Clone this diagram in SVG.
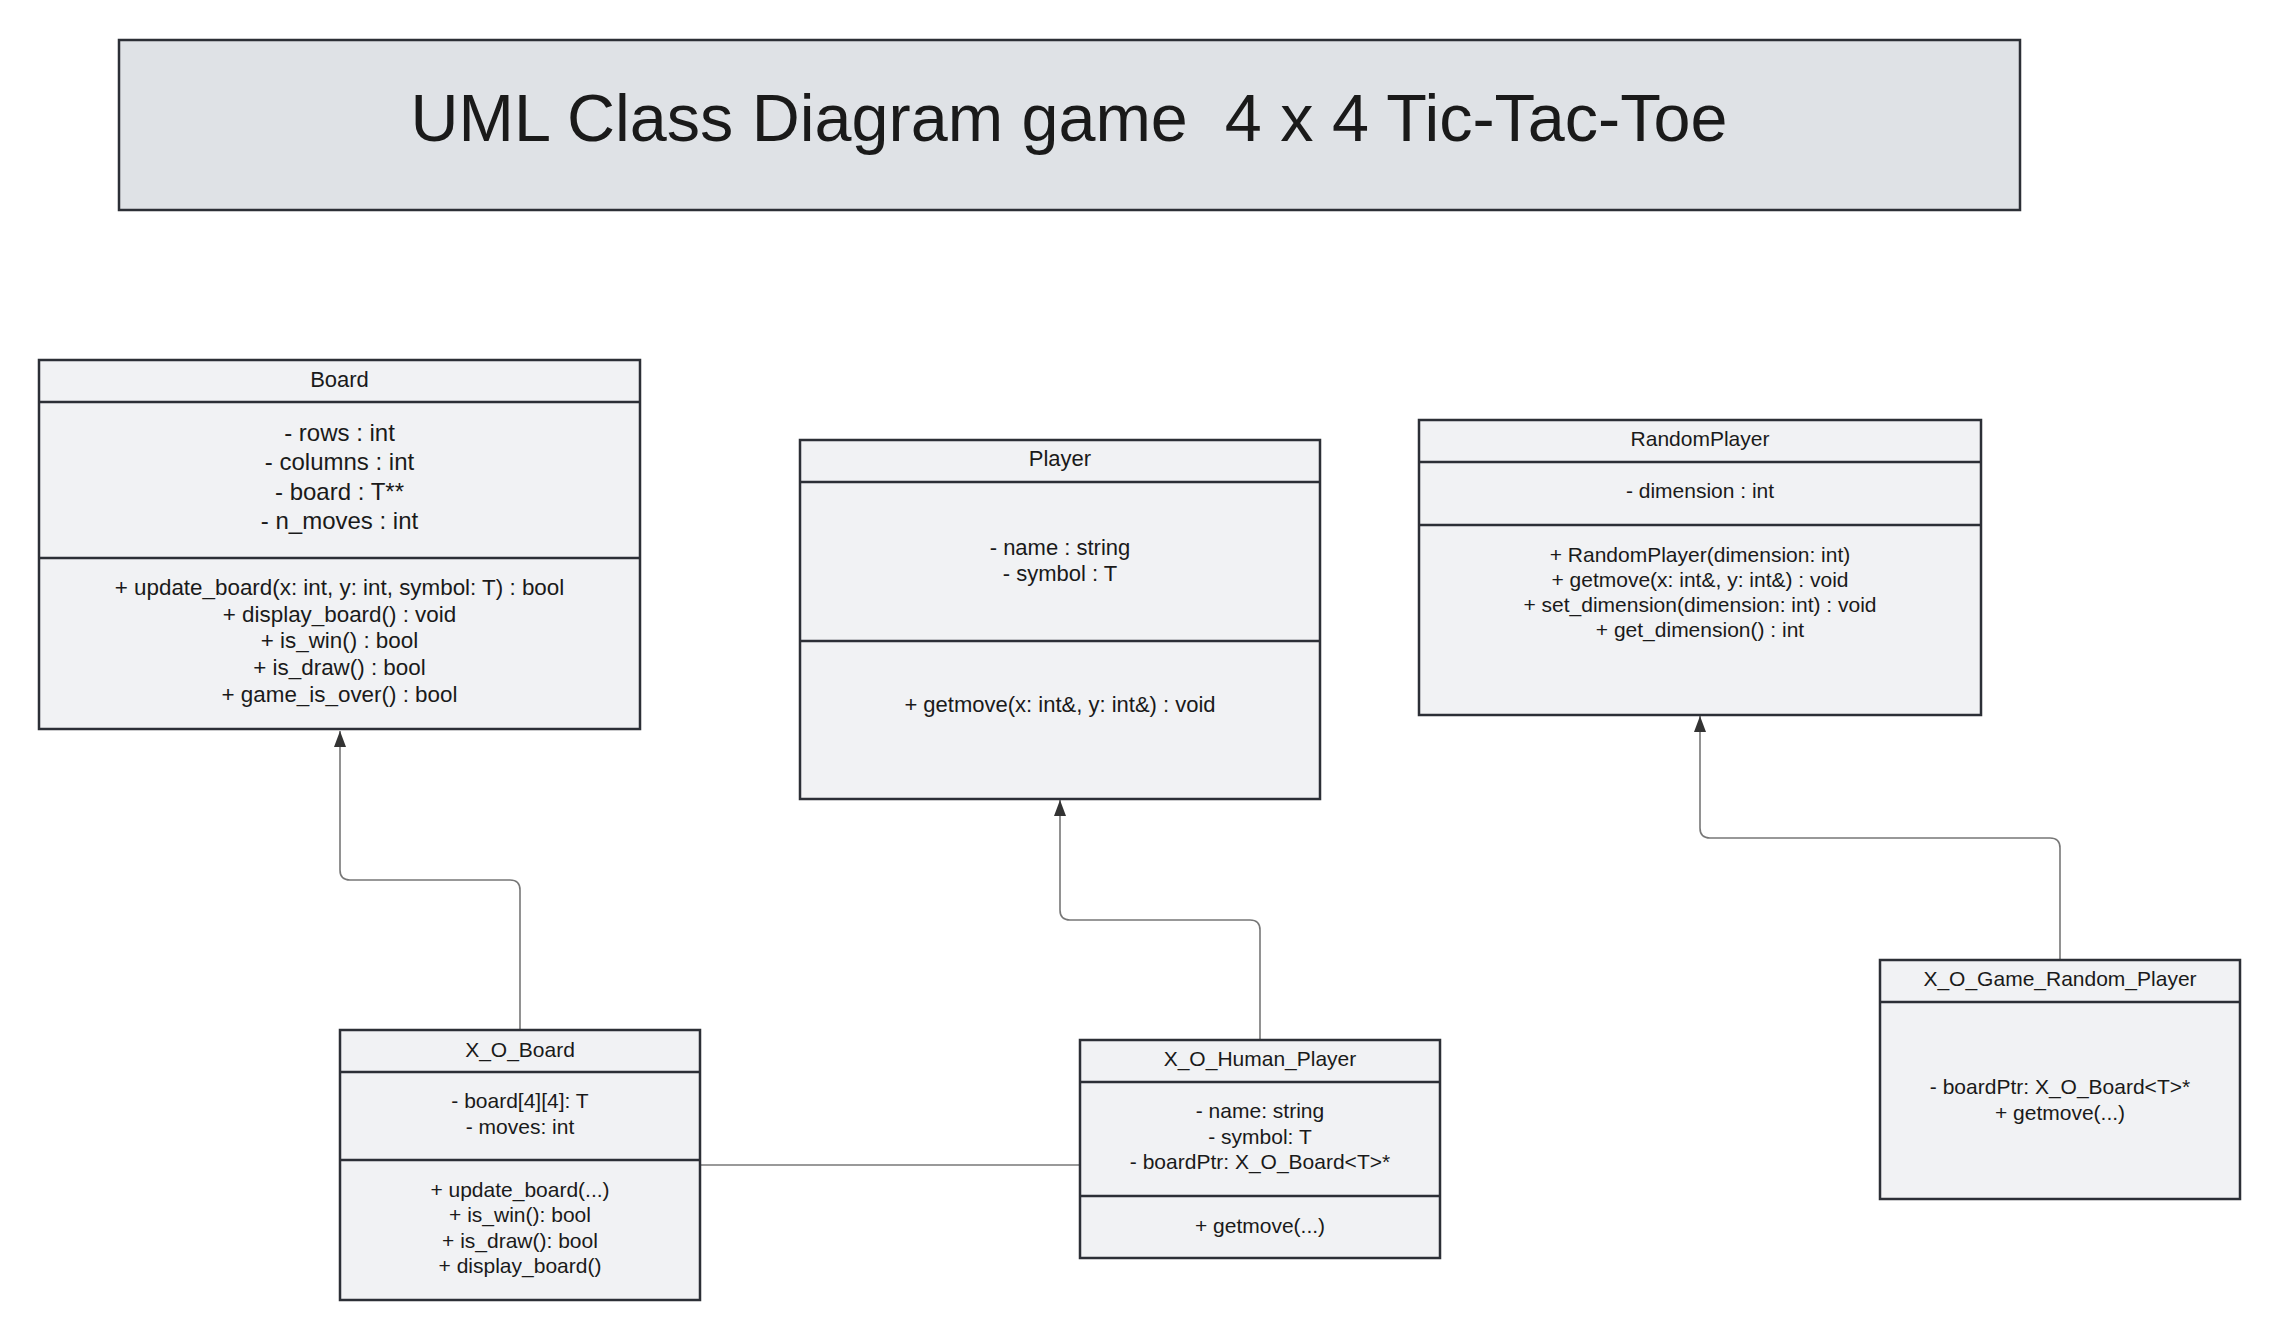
<svg xmlns="http://www.w3.org/2000/svg" width="2280" height="1340" viewBox="0 0 2280 1340">
<defs>
<style>
.box{fill:#f1f2f4;stroke:#2c2f36;stroke-width:2.5}
.sep{stroke:#2c2f36;stroke-width:2.5}
.t{font-family:"Liberation Sans",Arial,sans-serif;fill:#1a1a1a;text-anchor:middle}
.f24{font-size:24px}
.f22{font-size:22px}
.f225{font-size:22.4px}
.f21{font-size:21px}
.conn{fill:none;stroke:#777;stroke-width:1.6}
</style>
<marker id="arr" markerUnits="userSpaceOnUse" markerWidth="18" markerHeight="14" refX="16" refY="6" orient="auto">
<path d="M0,0 L16,6 L0,12 z" fill="#333"/>
</marker>
</defs>
<rect width="2280" height="1340" fill="#ffffff"/>

<g id="title">
<rect x="119" y="40" width="1901" height="170" fill="#dfe2e6" stroke="#2c2f36" stroke-width="2.5"/>
<text class="t" x="1069" y="141" font-size="66.5" fill="#000" xml:space="preserve" style="white-space:pre">UML Class Diagram game  4 x 4 Tic-Tac-Toe</text>
</g>

<g id="connectors">
<path class="conn" d="M520,1030 V890 Q520,880 510,880 H350 Q340,880 340,870 V731" marker-end="url(#arr)"/>
<path class="conn" d="M1260,1040 V930 Q1260,920 1250,920 H1070 Q1060,920 1060,910 V800" marker-end="url(#arr)"/>
<path class="conn" d="M2060,960 V848 Q2060,838 2050,838 H1710 Q1700,838 1700,828 V716" marker-end="url(#arr)"/>
<path class="conn" d="M699,1165 H1080"/>
</g>

<g id="Board">
<rect class="box" x="39" y="360" width="601" height="369"/>
<line class="sep" x1="39" y1="402" x2="640" y2="402"/>
<line class="sep" x1="39" y1="558" x2="640" y2="558"/>
<text class="t f22" x="339.5" y="387">Board</text>
<text class="t f24" x="339.5" y="441">- rows : int</text>
<text class="t f24" x="339.5" y="470">- columns : int</text>
<text class="t f24" x="339.5" y="500">- board : T**</text>
<text class="t f24" x="339.5" y="529">- n_moves : int</text>
<text class="t f225" x="339.5" y="595">+ update_board(x: int, y: int, symbol: T) : bool</text>
<text class="t f225" x="339.5" y="622">+ display_board() : void</text>
<text class="t f225" x="339.5" y="648">+ is_win() : bool</text>
<text class="t f225" x="339.5" y="675">+ is_draw() : bool</text>
<text class="t f225" x="339.5" y="702">+ game_is_over() : bool</text>
</g>

<g id="Player">
<rect class="box" x="800" y="440" width="520" height="359"/>
<line class="sep" x1="800" y1="482" x2="1320" y2="482"/>
<line class="sep" x1="800" y1="641" x2="1320" y2="641"/>
<text class="t f22" x="1060" y="466">Player</text>
<text class="t f22" x="1060" y="555">- name : string</text>
<text class="t f22" x="1060" y="581">- symbol : T</text>
<text class="t f22" x="1060" y="712">+ getmove(x: int&amp;, y: int&amp;) : void</text>
</g>

<g id="RandomPlayer">
<rect class="box" x="1419" y="420" width="562" height="295"/>
<line class="sep" x1="1419" y1="462" x2="1981" y2="462"/>
<line class="sep" x1="1419" y1="525" x2="1981" y2="525"/>
<text class="t f21" x="1700" y="446">RandomPlayer</text>
<text class="t f21" x="1700" y="498">- dimension : int</text>
<text class="t f21" x="1700" y="561.5">+ RandomPlayer(dimension: int)</text>
<text class="t f21" x="1700" y="587">+ getmove(x: int&amp;, y: int&amp;) : void</text>
<text class="t f21" x="1700" y="612">+ set_dimension(dimension: int) : void</text>
<text class="t f21" x="1700" y="637">+ get_dimension() : int</text>
</g>

<g id="X_O_Board">
<rect class="box" x="340" y="1030" width="360" height="270"/>
<line class="sep" x1="340" y1="1072" x2="700" y2="1072"/>
<line class="sep" x1="340" y1="1160" x2="700" y2="1160"/>
<text class="t f21" x="520" y="1057">X_O_Board</text>
<text class="t f21" x="520" y="1108">- board[4][4]: T</text>
<text class="t f21" x="520" y="1134">- moves: int</text>
<text class="t f21" x="520" y="1196.5">+ update_board(...)</text>
<text class="t f21" x="520" y="1222">+ is_win(): bool</text>
<text class="t f21" x="520" y="1247.5">+ is_draw(): bool</text>
<text class="t f21" x="520" y="1273">+ display_board()</text>
</g>

<g id="X_O_Human_Player">
<rect class="box" x="1080" y="1040" width="360" height="218"/>
<line class="sep" x1="1080" y1="1082" x2="1440" y2="1082"/>
<line class="sep" x1="1080" y1="1196" x2="1440" y2="1196"/>
<text class="t f21" x="1260" y="1066">X_O_Human_Player</text>
<text class="t f21" x="1260" y="1118">- name: string</text>
<text class="t f21" x="1260" y="1144">- symbol: T</text>
<text class="t f21" x="1260" y="1169">- boardPtr: X_O_Board&lt;T&gt;*</text>
<text class="t f21" x="1260" y="1233">+ getmove(...)</text>
</g>

<g id="X_O_Game_Random_Player">
<rect class="box" x="1880" y="960" width="360" height="239"/>
<line class="sep" x1="1880" y1="1002" x2="2240" y2="1002"/>
<text class="t f21" x="2060" y="986">X_O_Game_Random_Player</text>
<text class="t f21" x="2060" y="1094">- boardPtr: X_O_Board&lt;T&gt;*</text>
<text class="t f21" x="2060" y="1120">+ getmove(...)</text>
</g>
</svg>
